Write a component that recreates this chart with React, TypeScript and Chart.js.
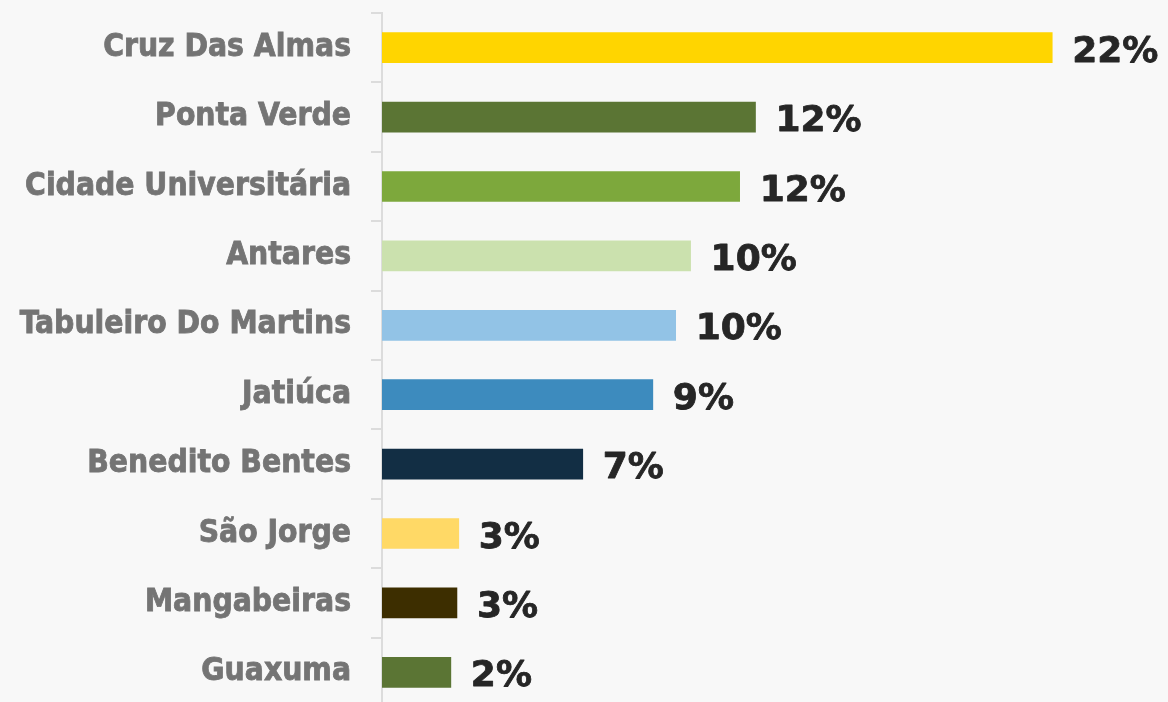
import React, { useEffect, useRef } from "react";
import { Chart, registerables } from "chart.js";

Chart.register(...registerables);

const categories = [
  "Cruz Das Almas",
  "Ponta Verde",
  "Cidade Universitária",
  "Antares",
  "Tabuleiro Do Martins",
  "Jatiúca",
  "Benedito Bentes",
  "São Jorge",
  "Mangabeiras",
  "Guaxuma",
];

const values = [22.0, 12.26, 11.74, 10.13, 9.64, 8.89, 6.59, 2.52, 2.46, 2.26];

const valueLabels = ["22%", "12%", "12%", "10%", "10%", "9%", "7%", "3%", "3%", "2%"];

const barColors = [
  "#FFD500",
  "#5B7534",
  "#7DA83C",
  "#CBE1AE",
  "#92C3E6",
  "#3D8BBE",
  "#122E44",
  "#FFD966",
  "#3D2E00",
  "#5B7534",
];

const X_MAX = 25.8;
const BG = "#f8f8f8";

const dataLabelPlugin = {
  id: "dataLabels",
  afterDatasetsDraw(chart: any) {
    const ctx = chart.ctx;
    const meta = chart.getDatasetMeta(0);
    ctx.save();
    ctx.font = "bold 36px 'DejaVu Sans', sans-serif";
    ctx.fillStyle = "#262626";
    ctx.strokeStyle = "#262626";
    ctx.lineWidth = 0.8;
    ctx.lineJoin = "round";
    ctx.textAlign = "left";
    ctx.textBaseline = "alphabetic";
    meta.data.forEach((bar: any, i: number) => {
      const x = bar.x + 20;
      const y = bar.y + 14;
      ctx.fillText(valueLabels[i], x, y);
      ctx.strokeText(valueLabels[i], x, y);
    });
    ctx.restore();
  },
};

export default function App() {
  const canvasRef = useRef<HTMLCanvasElement | null>(null);

  useEffect(() => {
    if (!canvasRef.current) return;
    const chart = new Chart(canvasRef.current, {
      type: "bar",
      data: {
        labels: categories,
        datasets: [
          {
            data: values,
            backgroundColor: barColors,
            barThickness: 30,
            borderWidth: 0,
          },
        ],
      },
      options: {
        indexAxis: "y",
        responsive: false,
        animation: false,
        events: [],
        layout: { padding: { top: 13, right: 0, bottom: 0, left: 0 } },
        plugins: {
          legend: { display: false },
          tooltip: { enabled: false },
        },
        scales: {
          x: {
            display: false,
            min: 0,
            max: X_MAX,
          },
          y: {
            z: 1,
            afterFit(scale: any) {
              scale.width = 382;
              scale.paddingTop = 0;
              scale.paddingBottom = 0;
            },
            grid: {
              drawOnChartArea: false,
              drawTicks: true,
              tickLength: 11,
              color: "#dcdcdc",
              lineWidth: 2,
            },
            border: {
              display: true,
              color: "#dcdcdc",
              width: 2,
            },
            ticks: {
              padding: 20,
              color: "#747474",
              textStrokeColor: "#747474",
              textStrokeWidth: 0.8,
              font: {
                family: "'DejaVu Sans Condensed', 'DejaVu Sans', sans-serif",
                size: 31.5,
                weight: "bold",
              },
            },
          },
        },
      },
      plugins: [dataLabelPlugin],
    });
    return () => chart.destroy();
  }, []);

  return (
    <div
      style={{
        position: "fixed",
        left: 0,
        top: 0,
        width: 1168,
        height: 702,
        overflow: "hidden",
        background: BG,
      }}
    >
      <canvas
        ref={canvasRef}
        width={1168}
        height={707}
        style={{ display: "block", width: 1168, height: 707 }}
      />
    </div>
  );
}
